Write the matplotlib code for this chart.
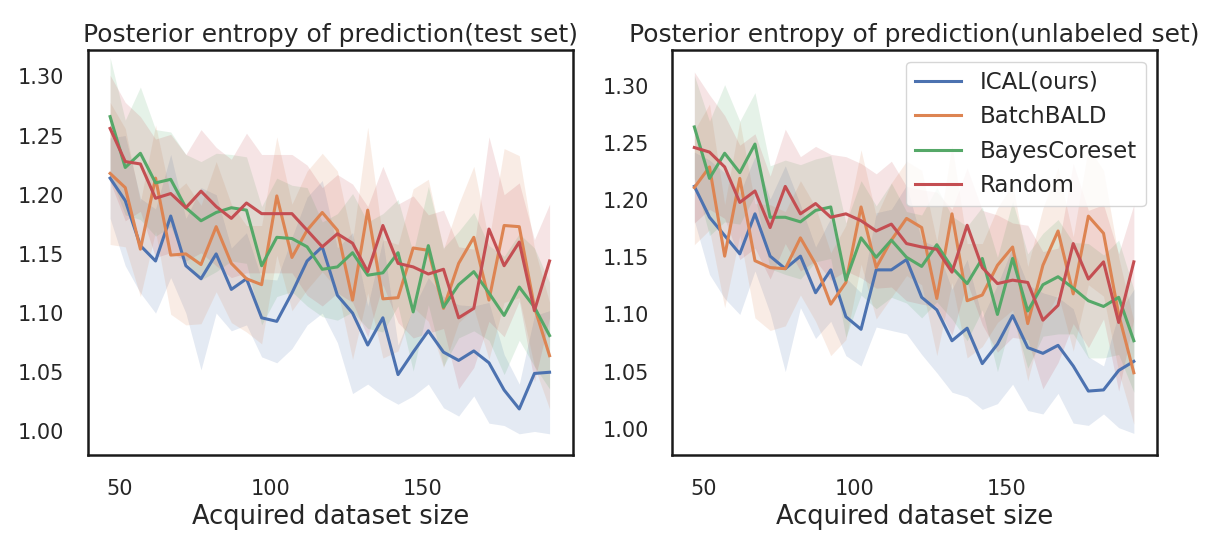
import matplotlib
matplotlib.use('Agg')
import matplotlib.pyplot as plt
import numpy as np

plt.rc('font', family='DejaVu Sans', size=15)
plt.rc('text', color='0.15')
plt.rc('axes', edgecolor='0.1', linewidth=1.8, labelcolor='0.15')
plt.rc('xtick', color='0.15')
plt.rc('ytick', color='0.15')

# tamaño del dataset adquirido
sizes = [47, 52, 57, 62, 67, 72, 77, 82, 87, 92, 97, 102, 107, 112, 117,
         122, 127, 132, 137, 142, 147, 152, 157, 162, 167, 172, 177, 182, 187, 192]

methods = ['ICAL(ours)', 'BatchBALD', 'BayesCoreset', 'Random']
colors = ['#4C72B0', '#DD8452', '#55A868', '#C44E52']

# panel izquierdo: test set
ical_test = [1.214, 1.195, 1.157, 1.144, 1.182, 1.140, 1.129, 1.150, 1.120, 1.129,
             1.096, 1.093, 1.117, 1.144, 1.156, 1.115, 1.100, 1.073, 1.096, 1.048,
             1.067, 1.085, 1.067, 1.060, 1.068, 1.058, 1.035, 1.019, 1.049, 1.050]
bbald_test = [1.218, 1.206, 1.154, 1.214, 1.149, 1.150, 1.141, 1.173, 1.142, 1.129,
              1.124, 1.199, 1.147, 1.170, 1.185, 1.170, 1.111, 1.187, 1.112, 1.113,
              1.155, 1.153, 1.104, 1.142, 1.164, 1.111, 1.174, 1.173, 1.105, 1.064]
bcore_test = [1.266, 1.223, 1.235, 1.210, 1.213, 1.189, 1.178, 1.185, 1.189, 1.187,
              1.140, 1.164, 1.163, 1.156, 1.137, 1.139, 1.151, 1.132, 1.134, 1.151,
              1.101, 1.157, 1.105, 1.124, 1.135, 1.117, 1.098, 1.122, 1.105, 1.081]
rand_test = [1.256, 1.228, 1.226, 1.197, 1.201, 1.189, 1.203, 1.190, 1.180, 1.193,
             1.184, 1.184, 1.184, 1.170, 1.156, 1.167, 1.159, 1.135, 1.174, 1.142,
             1.139, 1.133, 1.137, 1.096, 1.104, 1.171, 1.140, 1.160, 1.102, 1.144]

# semi-anchos de la banda de confianza (test)
ical_test_err = [0.034, 0.055, 0.040, 0.044, 0.052, 0.040, 0.077, 0.050, 0.035, 0.039,
                 0.033, 0.035, 0.047, 0.054, 0.056, 0.040, 0.068, 0.033, 0.066, 0.025,
                 0.037, 0.045, 0.047, 0.047, 0.038, 0.051, 0.030, 0.021, 0.049, 0.052]
bbald_test_err = [0.060, 0.050, 0.040, 0.045, 0.050, 0.060, 0.050, 0.055, 0.050, 0.045,
                  0.050, 0.050, 0.045, 0.050, 0.050, 0.050, 0.050, 0.070, 0.050, 0.045,
                  0.050, 0.060, 0.050, 0.050, 0.060, 0.050, 0.065, 0.060, 0.050, 0.045]
bcore_test_err = [0.050, 0.040, 0.056, 0.045, 0.040, 0.045, 0.050, 0.050, 0.045, 0.045,
                  0.050, 0.050, 0.045, 0.050, 0.040, 0.045, 0.050, 0.045, 0.050, 0.045,
                  0.050, 0.050, 0.050, 0.045, 0.050, 0.040, 0.050, 0.045, 0.050, 0.045]
rand_test_err = [0.045, 0.050, 0.040, 0.050, 0.050, 0.045, 0.052, 0.050, 0.050, 0.059,
                 0.050, 0.050, 0.050, 0.055, 0.050, 0.050, 0.050, 0.055, 0.050, 0.050,
                 0.060, 0.050, 0.050, 0.060, 0.050, 0.078, 0.060, 0.050, 0.060, 0.048]

# panel derecho: unlabeled set
ical_unl = [1.212, 1.185, 1.169, 1.153, 1.188, 1.151, 1.140, 1.151, 1.119, 1.139,
            1.098, 1.087, 1.139, 1.139, 1.148, 1.115, 1.104, 1.077, 1.088, 1.057,
            1.074, 1.099, 1.071, 1.066, 1.073, 1.055, 1.033, 1.034, 1.051, 1.059]
bbald_unl = [1.211, 1.229, 1.151, 1.219, 1.147, 1.141, 1.140, 1.167, 1.144, 1.109,
             1.128, 1.194, 1.141, 1.165, 1.184, 1.176, 1.114, 1.188, 1.112, 1.117,
             1.143, 1.159, 1.092, 1.143, 1.173, 1.118, 1.186, 1.171, 1.100, 1.049]
bcore_unl = [1.264, 1.219, 1.241, 1.224, 1.249, 1.185, 1.185, 1.181, 1.191, 1.194,
             1.130, 1.167, 1.150, 1.165, 1.150, 1.142, 1.161, 1.141, 1.127, 1.149,
             1.100, 1.149, 1.103, 1.126, 1.133, 1.123, 1.112, 1.107, 1.115, 1.077]
rand_unl = [1.246, 1.242, 1.229, 1.198, 1.208, 1.176, 1.212, 1.188, 1.197, 1.185,
            1.188, 1.182, 1.173, 1.179, 1.162, 1.159, 1.157, 1.137, 1.178, 1.141,
            1.127, 1.130, 1.128, 1.095, 1.108, 1.162, 1.131, 1.146, 1.093, 1.146]

ical_unl_err = [0.030, 0.050, 0.055, 0.053, 0.050, 0.050, 0.090, 0.045, 0.040, 0.045,
                0.034, 0.032, 0.050, 0.053, 0.065, 0.050, 0.055, 0.045, 0.060, 0.040,
                0.052, 0.060, 0.055, 0.053, 0.042, 0.050, 0.030, 0.021, 0.050, 0.063]
bbald_unl_err = [0.050, 0.055, 0.045, 0.050, 0.050, 0.055, 0.050, 0.050, 0.050, 0.045,
                 0.050, 0.050, 0.045, 0.050, 0.050, 0.050, 0.050, 0.060, 0.050, 0.045,
                 0.050, 0.055, 0.050, 0.050, 0.055, 0.050, 0.060, 0.055, 0.050, 0.045]
bcore_unl_err = [0.045, 0.050, 0.060, 0.045, 0.045, 0.045, 0.050, 0.050, 0.045, 0.045,
                 0.050, 0.050, 0.045, 0.050, 0.040, 0.045, 0.050, 0.045, 0.050, 0.045,
                 0.050, 0.050, 0.050, 0.045, 0.050, 0.040, 0.050, 0.045, 0.050, 0.045]
rand_unl_err = [0.066, 0.050, 0.045, 0.050, 0.050, 0.045, 0.050, 0.050, 0.050, 0.055,
                0.050, 0.050, 0.050, 0.055, 0.050, 0.050, 0.050, 0.055, 0.050, 0.050,
                0.060, 0.050, 0.050, 0.060, 0.050, 0.070, 0.060, 0.050, 0.060, 0.050]

panels = [
    ('Posterior entropy of prediction(test set)',
     [ical_test, bbald_test, bcore_test, rand_test],
     [ical_test_err, bbald_test_err, bcore_test_err, rand_test_err],
     (0.980, 1.322)),
    ('Posterior entropy of prediction(unlabeled set)',
     [ical_unl, bbald_unl, bcore_unl, rand_unl],
     [ical_unl_err, bbald_unl_err, bcore_unl_err, rand_unl_err],
     (0.977, 1.331)),
]

fig = plt.figure(figsize=(12.2, 5.47), dpi=100)
axes = [fig.add_axes([0.0721, 0.168, 0.3975, 0.740]),
        fig.add_axes([0.551, 0.168, 0.3975, 0.740])]

x = np.array(sizes)
for ax, (title, means, errs, ylim) in zip(axes, panels):
    for m, e, c, lab in zip(means, errs, colors, methods):
        m = np.array(m)
        e = np.array(e)
        ax.fill_between(x, m - e, m + e, color=c, alpha=0.15, linewidth=0)
        ax.plot(x, m, color=c, lw=2.2, label=lab)
    ax.set_title(title, fontsize=18, pad=6)
    ax.set_xlabel('Acquired dataset size', fontsize=18.5)
    ax.set_xlim(39.7, 199.7)
    ax.set_ylim(*ylim)
    ax.set_xticks([50, 100, 150])
    ax.set_yticks([1.00, 1.05, 1.10, 1.15, 1.20, 1.25, 1.30])
    ax.tick_params(length=0, pad=17, labelsize=15)

axes[1].legend(loc='upper right', fontsize=16.5, frameon=True, edgecolor='0.8')

plt.savefig('out.png', dpi=100)
